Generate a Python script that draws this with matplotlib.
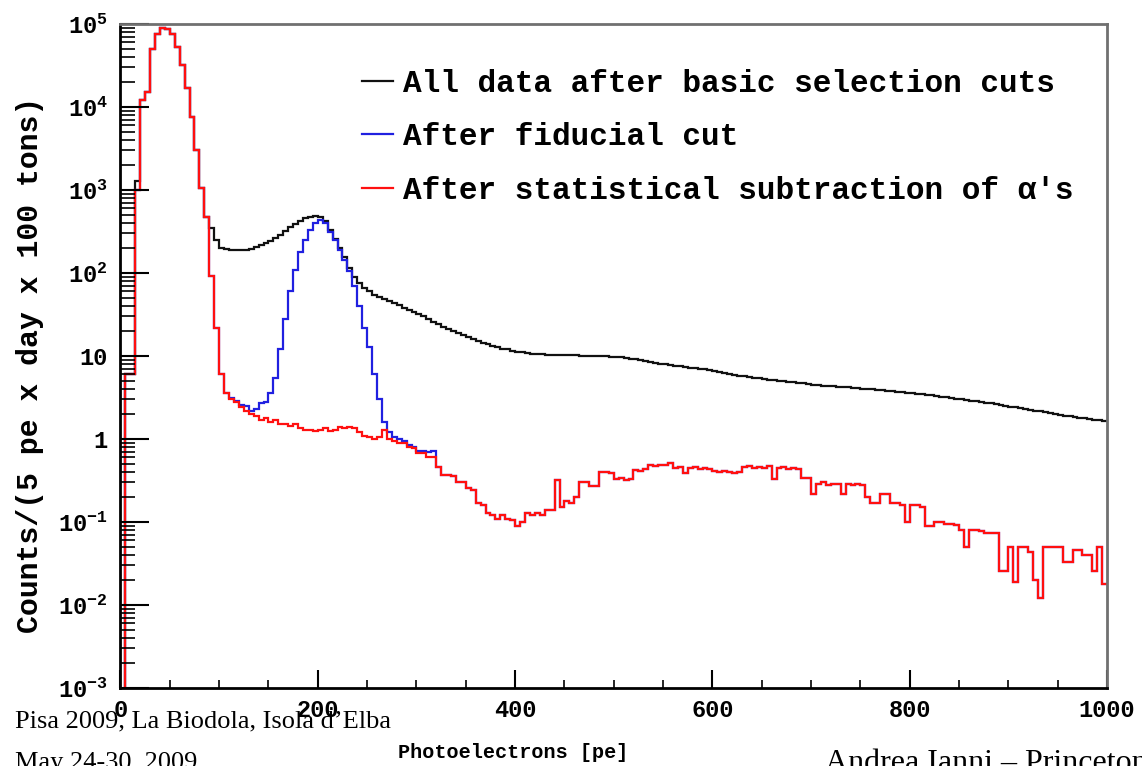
import numpy as np
import matplotlib
matplotlib.use('Agg')
from matplotlib import pyplot as plt
from matplotlib.lines import Line2D
from matplotlib.ticker import FixedLocator, LogLocator, MultipleLocator, NullFormatter

plt.rcParams['font.family'] = 'Liberation Mono'
plt.rcParams['font.weight'] = 'bold'
plt.rcParams['mathtext.fontset'] = 'custom'
plt.rcParams['mathtext.rm'] = 'Liberation Mono:bold'
plt.rcParams['mathtext.it'] = 'Liberation Mono:bold'

BIN_WIDTH = 5  # pe per bin

# counts / (5 pe x day x 100 tons), one value per 5 pe bin
subtracted = [
    0, 6, 6, 1000, 12000, 15000, 50000, 75000, 90000, 88000,
    75000, 53000, 32000, 17000, 7600, 3000, 1070, 470, 93, 22,
    6, 3.6, 3.0, 2.8, 2.4, 2.2, 2.0, 1.9, 1.7, 1.8,
    1.6, 1.7, 1.5, 1.5, 1.45, 1.5, 1.35, 1.3, 1.3, 1.25,
    1.3, 1.35, 1.25, 1.3, 1.4, 1.35, 1.4, 1.35, 1.2, 1.1,
    1.05, 1.0, 1.05, 1.3, 1.0, 0.95, 0.9, 0.9, 0.8, 0.78,
    0.68, 0.68, 0.6, 0.6, 0.46, 0.37, 0.37, 0.36, 0.3, 0.3,
    0.26, 0.24, 0.17, 0.16, 0.13, 0.12, 0.11, 0.12, 0.11, 0.105,
    0.09, 0.1, 0.13, 0.12, 0.13, 0.12, 0.14, 0.14, 0.32, 0.15,
    0.18, 0.17, 0.2, 0.3, 0.3, 0.27, 0.27, 0.4, 0.4, 0.39,
    0.33, 0.34, 0.32, 0.33, 0.42, 0.41, 0.43, 0.48, 0.47, 0.49,
    0.48, 0.52, 0.45, 0.46, 0.39, 0.45, 0.46, 0.44, 0.45, 0.44,
    0.41, 0.4, 0.41, 0.4, 0.39, 0.4, 0.46, 0.47, 0.45, 0.46,
    0.45, 0.47, 0.33, 0.45, 0.46, 0.44, 0.45, 0.44, 0.34, 0.34,
    0.22, 0.29, 0.3, 0.28, 0.29, 0.29, 0.22, 0.29, 0.28, 0.29,
    0.28, 0.2, 0.17, 0.17, 0.22, 0.22, 0.17, 0.17, 0.16, 0.1,
    0.16, 0.16, 0.15, 0.09, 0.09, 0.1, 0.1, 0.095, 0.095, 0.093,
    0.08, 0.05, 0.08, 0.08, 0.078, 0.074, 0.074, 0.073, 0.026, 0.026,
    0.05, 0.019, 0.05, 0.05, 0.043, 0.02, 0.012, 0.05, 0.05, 0.05,
    0.05, 0.033, 0.033, 0.046, 0.046, 0.04, 0.04, 0.026, 0.05, 0.018,
]

# fiducial cut differs from the subtracted spectrum only between 110 and 320 pe (210Po peak)
FIDUCIAL_FIRST_BIN = 22
fiducial_peak = [
    3.1, 2.9, 2.6, 2.5, 2.2, 2.3, 2.7, 2.8,
    3.6, 5.5, 12, 28, 60, 110, 180, 250, 330, 400,
    440, 400, 310, 250, 190, 145, 105, 70, 40, 22,
    13, 6, 3, 1.6, 1.2, 1.05, 1.0, 0.95, 0.85, 0.8,
    0.72, 0.72, 0.7, 0.72,
]

# all data: same as the others below 85 pe, then its own shape
ALL_FIRST_BIN = 17
all_data_tail = [
    470, 350, 250,
    200, 195, 190, 188, 188, 190, 195, 205, 215, 228,
    245, 265, 290, 320, 355, 390, 425, 455, 475, 485,
    470, 420, 330, 260, 200, 155, 115, 90, 75, 66,
    60, 55, 51, 48, 46, 43, 41, 38, 36, 34,
    32, 30, 28, 26, 24, 22.5, 21, 20, 19, 18,
    17, 16, 15, 14.5, 14, 13.3, 12.8, 12.3, 12, 11.6,
    11.3, 11.1, 10.9, 10.7, 10.6, 10.5, 10.4, 10.4, 10.3, 10.3,
    10.2, 10.2, 10.2, 10.1, 10.1, 10.0, 10.0, 9.9, 9.9, 9.8,
    9.7, 9.6, 9.5, 9.3, 9.1, 8.9, 8.7, 8.5, 8.3, 8.1,
    7.9, 7.8, 7.6, 7.5, 7.3, 7.2, 7.1, 7.0, 6.9, 6.8,
    6.6, 6.4, 6.2, 6.0, 5.9, 5.8, 5.7, 5.6, 5.5, 5.4,
    5.3, 5.2, 5.1, 5.0, 4.95, 4.9, 4.8, 4.75, 4.7, 4.6,
    4.5, 4.45, 4.4, 4.35, 4.3, 4.25, 4.2, 4.2, 4.15, 4.1,
    4.05, 4.0, 3.95, 3.9, 3.85, 3.8, 3.75, 3.7, 3.65, 3.6,
    3.55, 3.5, 3.45, 3.4, 3.35, 3.3, 3.25, 3.2, 3.1, 3.05,
    3.0, 2.95, 2.9, 2.85, 2.8, 2.75, 2.7, 2.65, 2.55, 2.5,
    2.45, 2.4, 2.35, 2.3, 2.25, 2.2, 2.15, 2.1, 2.05, 2.0,
    1.95, 1.9, 1.87, 1.83, 1.8, 1.77, 1.74, 1.7, 1.68, 1.65,
]
ALL_BIN3 = 1300

labels = ['All data after basic selection cuts',
          'After fiducial cut',
          "After statistical subtraction of α's"]
y_tick_values = [1e-3, 1e-2, 1e-1, 1, 10, 1e2, 1e3, 1e4, 1e5]
y_tick_labels = [r'$10^{-3}$', r'$10^{-2}$', r'$10^{-1}$', '1', '10',
                 r'$10^{2}$', r'$10^{3}$', r'$10^{4}$', r'$10^{5}$']

red = np.array(subtracted, dtype=float)
blue = red.copy()
blue[FIDUCIAL_FIRST_BIN:FIDUCIAL_FIRST_BIN + len(fiducial_peak)] = fiducial_peak
black = red.copy()
black[3] = ALL_BIN3
black[ALL_FIRST_BIN:] = all_data_tail

edges = np.arange(0, len(red) * BIN_WIDTH + 1, BIN_WIDTH)


def clip_zero(v):
    # empty bins go below the axis so the step drops to the bottom
    return np.where(v > 0, v, 1e-6)


fig = plt.figure(figsize=(11.42, 7.66), dpi=100)
ax = fig.add_axes([0.1055, 0.1018, 0.8639, 0.8669])

ax.stairs(clip_zero(black), edges, baseline=None, color='#111111', lw=1.6)
ax.stairs(clip_zero(blue), edges, baseline=None, color='#2020e0', lw=1.6)
ax.stairs(clip_zero(red), edges, baseline=None, color='#ff1010', lw=1.6)

ax.set_yscale('log')
ax.set_xlim(0, 1000)
ax.set_ylim(1e-3, 1e5)

ax.yaxis.set_major_locator(FixedLocator(y_tick_values))
ax.set_yticklabels(y_tick_labels)
ax.yaxis.set_minor_locator(LogLocator(base=10, subs=np.arange(2, 10), numticks=20))
ax.yaxis.set_minor_formatter(NullFormatter())
ax.xaxis.set_major_locator(MultipleLocator(200))
ax.xaxis.set_minor_locator(MultipleLocator(50))

ax.tick_params(axis='y', which='major', direction='in', length=21, width=1.5, labelsize=17, pad=9)
ax.tick_params(axis='y', which='minor', direction='in', length=11, width=1.2)
ax.tick_params(axis='x', which='major', direction='in', length=13, width=1.5, labelsize=17, pad=8)
ax.tick_params(axis='x', which='minor', direction='in', length=6, width=1.2)
ax.tick_params(top=False, right=False, which='both')

for side in ['left', 'bottom']:
    ax.spines[side].set_linewidth(2)
    ax.spines[side].set_color('black')
for side in ['top', 'right']:
    ax.spines[side].set_linewidth(2)
    ax.spines[side].set_color('#707070')

handles = [Line2D([], [], color=c, lw=1.6) for c in ['#111111', '#2020e0', '#ff1010']]
fig.legend(handles, labels, loc='upper left', bbox_to_anchor=(362 / 1142, 1 - 69 / 766),
           frameon=False, fontsize=22.4, handlelength=1.0, handletextpad=0.33,
           borderpad=0, borderaxespad=0, labelspacing=0.75)

fig.text(513 / 1142, 1 - 752 / 766, 'Photoelectrons [pe]', ha='center', va='center', fontsize=14.5)
fig.text(30 / 1142, 1 - 365 / 766, 'Counts/(5 pe x day x 100 tons)', ha='center', va='center',
         rotation=90, fontsize=21.5)

# slide footer text overlaid on the picture
fig.text(15 / 1142, 1 - 727 / 766, "Pisa 2009, La Biodola, Isola d\u2019Elba", family='Liberation Serif',
         weight='normal', fontsize=19, ha='left', va='baseline')
fig.text(15 / 1142, 1 - 769 / 766, 'May 24-30, 2009', family='Liberation Serif',
         weight='normal', fontsize=19, ha='left', va='baseline')
fig.text(825 / 1142, 1 - 771 / 766, 'Andrea Ianni \u2013 Princeton', family='Liberation Serif',
         weight='normal', fontsize=23, ha='left', va='baseline')

fig.savefig('out.png', dpi=100)
